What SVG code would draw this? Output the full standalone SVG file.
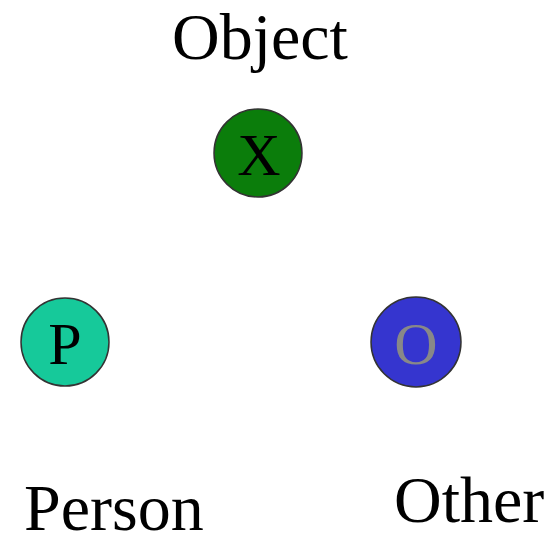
<svg xmlns="http://www.w3.org/2000/svg" width="559" height="545" viewBox="0 0 559 545">
<style>
.n{stroke:#333;stroke-width:1.5}
.t{font-family:"Liberation Serif","Times New Roman",serif}
.c{font-size:60px;text-anchor:middle}
.l{font-size:66px}
</style>
<rect width="559" height="545" fill="#fff"/>
<g id="connectors"></g>
<g id="object">
<circle class="n" cx="258" cy="153" r="44" fill="#0b7d0b"/>
<text class="t c" x="259" y="175" fill="#000">X</text>
<text class="t l" x="172" y="59" fill="#000">Object</text>
</g>
<g id="person">
<circle class="n" cx="65" cy="342" r="44" fill="#16c99a"/>
<text class="t c" x="65" y="364" fill="#000">P</text>
<text class="t l" x="24" y="530" fill="#000">Person</text>
</g>
<g id="other">
<circle class="n" cx="416" cy="342" r="45" fill="#3535cf"/>
<text class="t c" x="416" y="364" fill="#888">O</text>
<text class="t l" x="394" y="522" fill="#000">Other</text>
</g>
</svg>
